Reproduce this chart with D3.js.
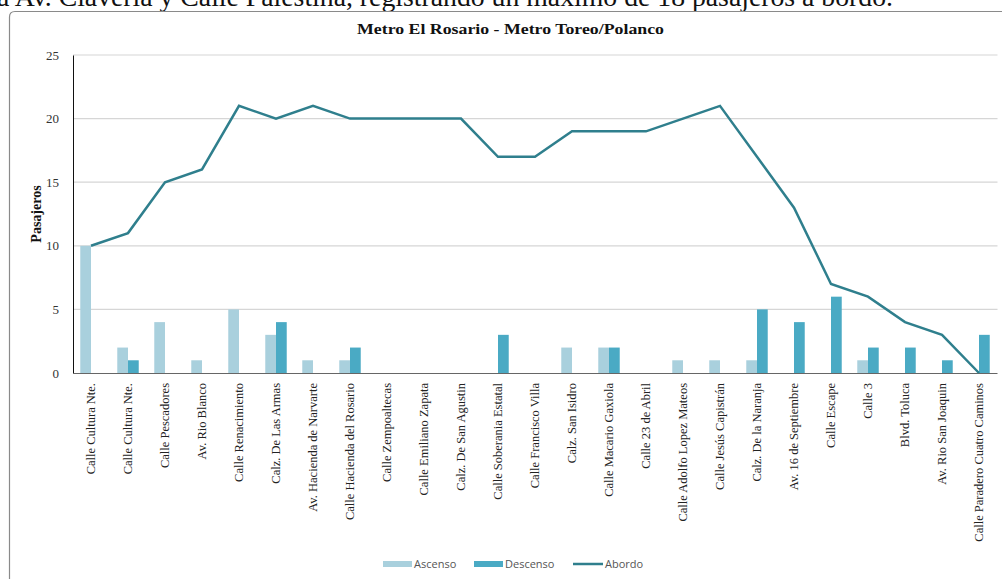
<!DOCTYPE html>
<html><head><meta charset="utf-8">
<script src="https://cdn.jsdelivr.net/npm/d3@7"></script>
<style>html,body{margin:0;padding:0;background:#fff;overflow:hidden}</style>
</head><body>
<svg id="chart" width="1002" height="579"></svg>
<script>
const categories = ["Calle Cultura Nte.","Calle Cultura Nte.","Calle Pescadores","Av. Rio Blanco","Calle Renacimiento","Calz. De Las Armas","Av. Hacienda de Narvarte","Calle Hacienda del Rosario","Calle Zempoaltecas","Calle Emiliano Zapata","Calz. De San Agustin","Calle Soberania Estatal","Calle Francisco Villa","Calz. San Isidro","Calle Macario Gaxiola","Calle 23 de Abril","Calle Adolfo Lopez Mateos","Calle Jesús Capistrán","Calz. De la Naranja","Av. 16 de Septiembre","Calle Escape","Calle 3","Blvd. Toluca","Av. Rio San Joaquin","Calle Paradero Cuatro Caminos"];
const ascenso  = [10,2,4,1,5,3,1,1,0,0,0,0,0,2,2,0,1,1,1,0,0,1,0,0,0];
const descenso = [0,1,0,0,0,4,0,2,0,0,0,3,0,0,2,0,0,0,5,4,6,2,2,1,3];
const abordo   = [10,11,15,16,21,20,21,20,20,20,20,17,17,19,19,19,20,21,17,13,7,6,4,3,0];
const yTicks = [0,5,10,15,20,25];
const seriesNames = ["Ascenso","Descenso","Abordo"];
const title = "Metro El Rosario - Metro Toreo/Polanco";
const yLabel = "Pasajeros";
const caption = "a Av. Clavería y Calle Palestina, registrando un máximo de 18 pasajeros a bordo.";

(function(){
const colors = {Ascenso:"#a9d0dd", Descenso:"#4aaac4", Abordo:"#2f7f8d"};
const serif = "'Liberation Serif','Times New Roman',serif";
const sans = "'Open Sans','Noto Sans',sans-serif";

const svg = d3.select("#chart");
const pLeft = 73, pRight = 997.5, pTop = 55, pBottom = 373;

// caption (cut at the top edge, as in the source page)
svg.append("text").attr("x",-3).attr("y",6).attr("font-family",serif).attr("font-size",28)
  .attr("textLength",896).attr("lengthAdjust","spacingAndGlyphs")
  .attr("fill","#111").text(caption);

// frame
svg.append("path").attr("d","M9.5,579 L9.5,17 Q9.5,11.5 15,11.5 L1010,11.5")
  .attr("fill","none").attr("stroke","#8a8a8a").attr("stroke-width",1.2);

const idx = d3.range(categories.length);
const x = d3.scaleBand().domain(idx).range([72.5, pRight]).paddingInner(0.42).paddingOuter(0.21);
const x1 = d3.scaleBand().domain(["Ascenso","Descenso"]).range([0, x.bandwidth()]);
const y = d3.scaleLinear().domain([0,25]).range([pBottom, pTop]);

// title
svg.append("text").attr("x",357).attr("y",34)
  .attr("textLength",307).attr("lengthAdjust","spacingAndGlyphs")
  .attr("font-family",serif).attr("font-weight","bold").attr("font-size",15.5).attr("fill","#111").text(title);

// gridlines
svg.append("g").selectAll("line").data(yTicks.filter(d=>d>0)).join("line")
  .attr("x1",pLeft).attr("x2",pRight).attr("y1",d=>y(d)).attr("y2",d=>y(d))
  .attr("stroke","#d6d6d6").attr("stroke-width",1.2);

// y axis
const yAxis = svg.append("g").attr("transform",`translate(${pLeft},0)`)
  .call(d3.axisLeft(y).tickValues(yTicks).tickSize(0).tickPadding(14));
yAxis.select(".domain").attr("stroke","#111");
yAxis.selectAll("text").attr("font-family",serif).attr("font-size",13).attr("fill","#333");

// y label
svg.append("text").attr("transform","translate(41,214) rotate(-90)").attr("text-anchor","middle")
  .attr("font-family",serif).attr("font-weight","bold").attr("font-size",14).attr("fill","#111").text(yLabel);

// bars
const barData = [];
idx.forEach(i=>{
  barData.push({i, s:"Ascenso", v:ascenso[i]});
  barData.push({i, s:"Descenso", v:descenso[i]});
});
svg.append("g").selectAll("rect").data(barData.filter(d=>d.v>0)).join("rect")
  .attr("x",d=>x(d.i)+x1(d.s)).attr("width",x1.bandwidth())
  .attr("y",d=>y(d.v)).attr("height",d=>y(0)-y(d.v)).attr("fill",d=>colors[d.s]);

// x axis
const xAxis = svg.append("g").attr("transform",`translate(0,${pBottom})`)
  .call(d3.axisBottom(x).tickSize(0).tickFormat(i=>categories[i]));
xAxis.select(".domain").attr("stroke","#666").attr("stroke-width",1.2).attr("d",`M${pLeft},0.5H${pRight}`);
xAxis.selectAll("text").attr("font-family",serif).attr("font-size",12.5).attr("fill","#222")
  .attr("text-anchor","end").attr("transform","rotate(-90)").attr("x",-10).attr("y",0).attr("dy","0.35em");

// line
const line = d3.line().x((d,i)=>x(i)+x.bandwidth()/2).y(d=>y(d));
svg.append("path").datum(abordo).attr("d",line).attr("fill","none")
  .attr("stroke",colors.Abordo).attr("stroke-width",2.5).attr("stroke-linejoin","miter");

// legend
const lg = svg.append("g").attr("font-family",sans).attr("font-size",11).attr("fill","#555");
const lx = [383, 474, 573];
seriesNames.forEach((s,k)=>{
  if (s==="Abordo") {
    lg.append("line").attr("x1",lx[k]).attr("x2",lx[k]+30).attr("y1",564).attr("y2",564)
      .attr("stroke",colors[s]).attr("stroke-width",2.5);
  } else {
    lg.append("rect").attr("x",lx[k]).attr("y",561).attr("width",29).attr("height",6).attr("fill",colors[s]);
  }
  lg.append("text").attr("x",lx[k]+(s==="Abordo"?32:31)).attr("y",568).text(s);
});
})();
</script>
</body></html>
